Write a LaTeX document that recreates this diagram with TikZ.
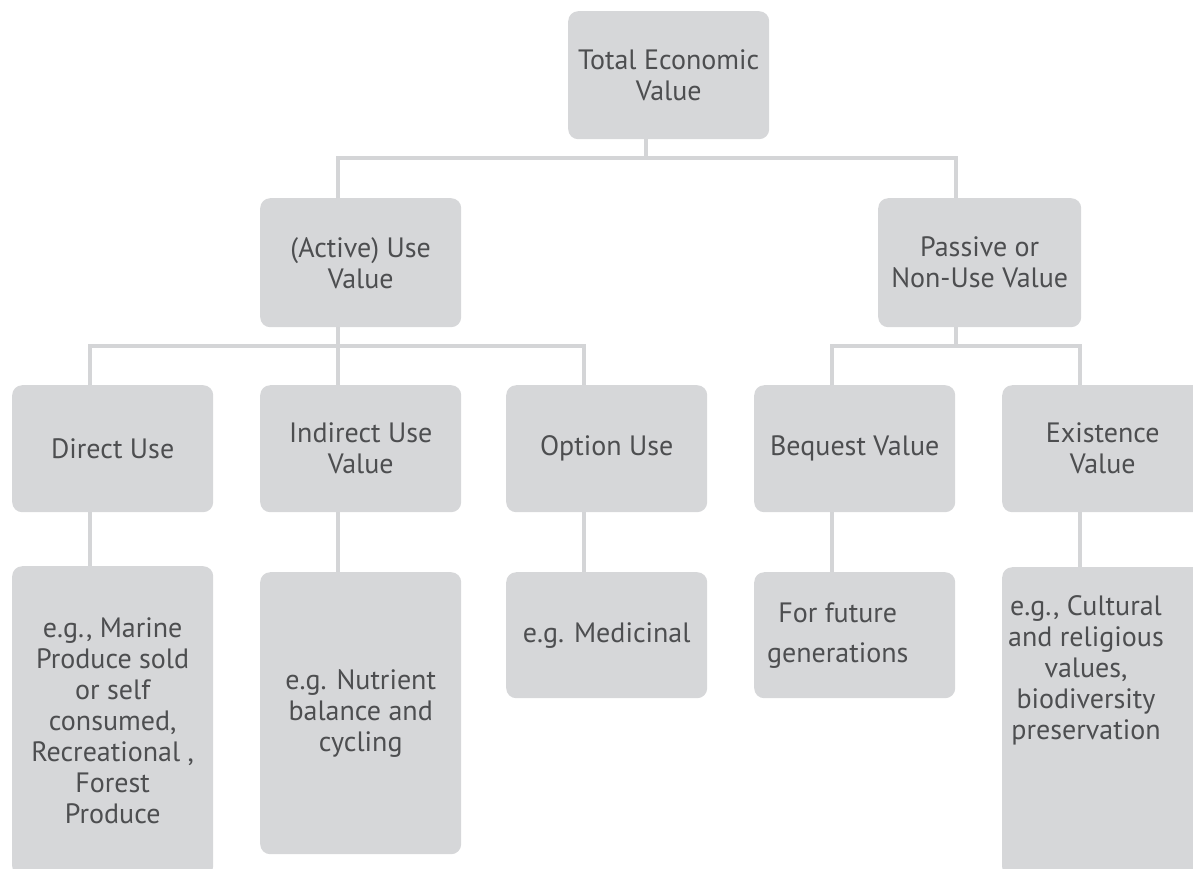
\documentclass[tikz,border=0pt]{standalone}
\usepackage{fontspec}
\setmainfont{PT Sans}
\usetikzlibrary{positioning}
\definecolor{boxgray}{HTML}{D6D7D9}
\definecolor{linegray}{HTML}{D4D5D7}
\definecolor{txtgray}{HTML}{4D4E50}

\begin{document}
\begin{tikzpicture}[x=1pt,y=-1pt,
	box/.style={fill=boxgray, rounded corners=10pt, anchor=north west, minimum width=201pt, inner sep=0pt, align=center, text=txtgray, font=\fontsize{28}{31}\selectfont},
	link/.style={draw=linegray, line width=4pt}]
	\useasboundingbox (0,0) rectangle (1193,868);
	\node[box, minimum height=128pt] (tev) at (568,11) {Total Economic\\Value};
	\node[box, minimum height=129pt] (use) at (260,198) {(Active) Use\\Value};
	\node[box, minimum height=129pt, minimum width=203pt] (nonuse) at (878,198) {Passive or\\Non-Use Value};
	\foreach \n/\x/\t in {direct/12/Direct Use, indirect/260/{Indirect Use\\Value}, option/506/Option Use, bequest/754/Bequest Value, existence/1002/{Existence\\Value}}{
		\node[box, minimum height=127pt] (\n) at (\x,385) {\t};
	}
	\node[box, minimum height=310pt] (eg-direct) at (12,566) {e.g., Marine\\Produce sold\\or self\\consumed,\\Recreational ,\\Forest\\Produce};
	\node[box, minimum height=282pt] (eg-indirect) at (260,572) {e.g. Nutrient\\balance and\\cycling};
	\node[box, minimum height=126pt] (eg-option) at (506,572) {e.g. Medicinal};
	\node[box, minimum height=126pt] (eg-bequest) at (754,572) {For future\hspace*{34pt}\\[9pt]generations\hspace*{34pt}};
	\node[box, minimum height=310pt] (eg-existence) at (1002,567) {};
	\node[align=center, text=txtgray, font=\fontsize{28}{31}\selectfont, inner sep=0pt, anchor=north] (eg-existence-txt) at (1086,595) {e.g., Cultural\\and religious\\values,\\biodiversity\\preservation};
	\coordinate (j1) at (646,158);
	\coordinate (j2) at (338,346);
	\coordinate (j3) at (956,346);
	\draw[link] ([xshift=78pt]tev.south west) -- (j1);
	\draw[link] ([xshift=78pt]use.north west) |- (j1) -| ([xshift=78pt]nonuse.north west);
	\draw[link] ([xshift=78pt]use.south west) -- (j2);
	\draw[link] ([xshift=78pt]direct.north west) |- (j2) -| ([xshift=78pt]option.north west);
	\draw[link] (j2) -- ([xshift=78pt]indirect.north west);
	\draw[link] ([xshift=78pt]nonuse.south west) -- (j3);
	\draw[link] ([xshift=78pt]bequest.north west) |- (j3) -| ([xshift=78pt]existence.north west);
	\foreach \n in {direct,indirect,option,bequest,existence}{
		\draw[link] ([xshift=78pt]\n.south west) -- ([xshift=78pt]eg-\n.north west);
	}
\end{tikzpicture}
\end{document}
